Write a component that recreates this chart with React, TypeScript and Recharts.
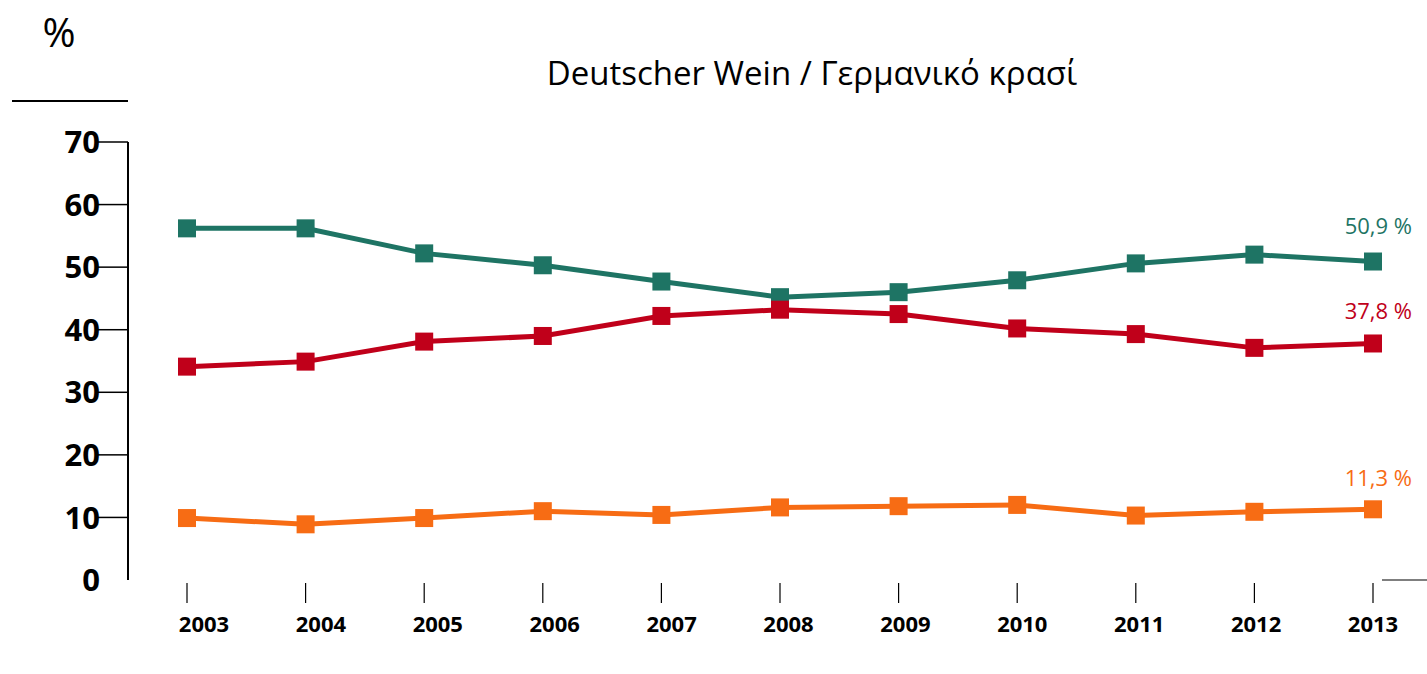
import { LineChart, Line, XAxis, YAxis } from 'recharts';

const years = ['2003', '2004', '2005', '2006', '2007', '2008', '2009', '2010', '2011', '2012', '2013'];
const tealValues = [56.2, 56.2, 52.2, 50.3, 47.7, 45.2, 46.0, 47.9, 50.6, 52.0, 50.9];
const redValues = [34.1, 34.9, 38.1, 39.0, 42.2, 43.2, 42.5, 40.2, 39.3, 37.1, 37.8];
const orangeValues = [9.9, 8.9, 9.9, 11.0, 10.4, 11.6, 11.8, 12.0, 10.3, 10.9, 11.3];
const yTicks = [0, 10, 20, 30, 40, 50, 60, 70];
const endLabels = ['50,9 %', '37,8 %', '11,3 %'];

const TEAL = '#1E7464';
const RED = '#C0001A';
const ORANGE = '#F76C14';
const FONT = '"Open Sans", "Noto Sans", sans-serif';

const data = years.map((year, i) => ({
  year,
  teal: tealValues[i],
  red: redValues[i],
  orange: orangeValues[i],
}));

if (typeof document !== 'undefined') {
  document.body.style.margin = '0';
}

const SquareDot = (color: string) => (props: any) => {
  const { cx, cy, index } = props;
  if (cx == null || cy == null) return <g key={index} />;
  return <rect key={index} x={cx - 9} y={cy - 9} width={18} height={18} fill={color} />;
};

const endLabel = (color: string, text: string, dy: number) => (props: any) => {
  const { x, y, index } = props;
  if (index !== years.length - 1) return <g key={index} />;
  return (
    <text key={index} x={x + 39} y={y + dy} textAnchor="end" fill={color} fontSize={22} fontFamily={FONT}>
      {text}
    </text>
  );
};

const YTick = (props: any) => {
  const { x, y, payload } = props;
  return (
    <g>
      {payload.value !== 0 && <line x1={x} x2={x + 30} y1={y} y2={y} stroke="#000" strokeWidth={1.5} />}
      <text x={x + 2} y={y} dy="0.36em" textAnchor="end" fill="#000" fontSize={31} fontWeight={700} fontFamily={FONT}>
        {payload.value}
      </text>
    </g>
  );
};

const XTick = (props: any) => {
  const { x, y, payload, index } = props;
  // labels sit a little right of their tick marks, drifting back toward the last one
  const shift = 17 - (index ?? 0) * 1.7;
  return (
    <g>
      <line x1={x} x2={x} y1={y + 3} y2={y + 23} stroke="#000" strokeWidth={1.2} />
      <text x={x + shift} y={y + 52} textAnchor="middle" fill="#000" fontSize={22} fontWeight={700} fontFamily={FONT}>
        {payload.value}
      </text>
    </g>
  );
};

export default function App() {
  return (
    <div style={{ position: 'relative', width: 1427, height: 674, background: '#fff' }}>
      <LineChart width={1427} height={674} data={data} margin={{ top: 142, right: 0, bottom: 0, left: 0 }}>
        <XAxis
          dataKey="year"
          axisLine={false}
          tickLine={false}
          tickSize={0}
          tickMargin={0}
          height={94}
          interval={0}
          padding={{ left: 59, right: 54 }}
          tick={<XTick />}
        />
        <YAxis
          width={128}
          domain={[0, 70]}
          ticks={yTicks}
          interval={0}
          tickLine={false}
          tickSize={30}
          tickMargin={0}
          axisLine={{ stroke: '#000', strokeWidth: 2 }}
          tick={<YTick />}
        />
        <Line
          dataKey="teal"
          stroke={TEAL}
          strokeWidth={5}
          dot={SquareDot(TEAL)}
          activeDot={false}
          label={endLabel(TEAL, endLabels[0], -28)}
          isAnimationActive={false}
        />
        <Line
          dataKey="red"
          stroke={RED}
          strokeWidth={5}
          dot={SquareDot(RED)}
          activeDot={false}
          label={endLabel(RED, endLabels[1], -24)}
          isAnimationActive={false}
        />
        <Line
          dataKey="orange"
          stroke={ORANGE}
          strokeWidth={5}
          dot={SquareDot(ORANGE)}
          activeDot={false}
          label={endLabel(ORANGE, endLabels[2], -23)}
          isAnimationActive={false}
        />
      </LineChart>
      <svg width={1427} height={674} style={{ position: 'absolute', left: 0, top: 0, pointerEvents: 'none' }}>
        <text x={59} y={47} textAnchor="middle" fontSize={40} fontFamily={FONT} fill="#000">%</text>
        <line x1={12} x2={128} y1={101} y2={101} stroke="#000" strokeWidth={2} />
        <text x={812} y={85} textAnchor="middle" fontSize={33} fontFamily={FONT} fill="#000">
          Deutscher Wein / Γερμανικό κρασί
        </text>
        <line x1={1382} x2={1427} y1={580} y2={580} stroke="#555" strokeWidth={1.5} />
      </svg>
    </div>
  );
}
